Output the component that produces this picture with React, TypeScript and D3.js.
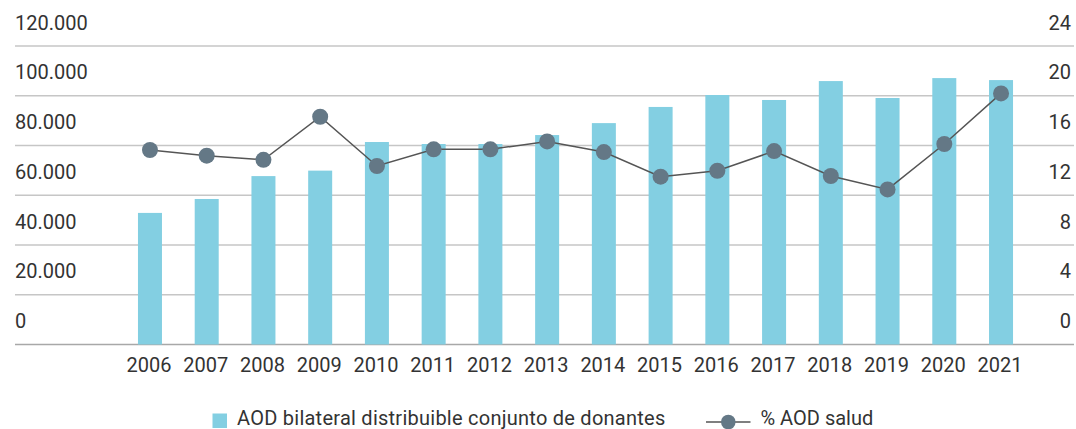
import React from "react";
import * as d3 from "d3";

const years = ["2006","2007","2008","2009","2010","2011","2012","2013","2014","2015","2016","2017","2018","2019","2020","2021"];
const aodValues = [52900, 58500, 67700, 69900, 81400, 80600, 80600, 84200, 89000, 95500, 100300, 98300, 105900, 99100, 107100, 106300];
const pctValues = [15.64, 15.18, 14.85, 18.31, 14.35, 15.69, 15.69, 16.33, 15.47, 13.49, 13.97, 15.55, 13.55, 12.47, 16.12, 20.19];
const leftTicks = [0, 20000, 40000, 60000, 80000, 100000, 120000];
const leftTickLabels = ["0", "20.000", "40.000", "60.000", "80.000", "100.000", "120.000"];
const rightTicks = [0, 4, 8, 12, 16, 20, 24];
const rightTickLabels = ["0", "4", "8", "12", "16", "20", "24"];
const legendLabels = ["AOD bilateral distribuible conjunto de donantes", "% AOD salud"];

const W = 1076, H = 429;
const FONT = "Roboto, 'DejaVu Sans', sans-serif";
const BAR = "#83cfe2";
const DOT = "#647886";
const TEXT = "#333333";

export default function App() {
  const x = d3.scaleBand<string>().domain(years).range([121.6, 1029.4]).paddingInner(0.577).paddingOuter(0.2885);
  const yL = d3.scaleLinear().domain([0, 120000]).range([344.5, 46]);
  const yR = d3.scaleLinear().domain([0, 24]).range([344.5, 46]);
  const cx = (d: string) => (x(d) as number) + x.bandwidth() / 2;
  const line = d3.line<number>().x((_, i) => cx(years[i])).y((v) => yR(v));

  return (
    <svg width={W} height={H} style={{ position: "absolute", left: 0, top: 0 }} fontFamily={FONT}>
      <rect width={W} height={H} fill="#fff" />
      {leftTicks.map((t, i) => (
        <g key={"g" + i}>
          <line x1={15} x2={1074} y1={yL(t)} y2={yL(t)} stroke={i === 0 ? "#a8a8a8" : "#c6c6c6"} strokeWidth={1.5} />
          <text x={15} y={yL(t) - 16.5} fontSize={20} fill={TEXT}>{leftTickLabels[i]}</text>
        </g>
      ))}
      {rightTicks.map((t, i) => (
        <text key={"r" + i} x={1071} y={yR(t) - 16.5} fontSize={20} fill={TEXT} textAnchor="end">{rightTickLabels[i]}</text>
      ))}
      {years.map((yr, i) => (
        <rect key={"b" + i} x={x(yr)} y={yL(aodValues[i])} width={x.bandwidth()} height={yL(0) - yL(aodValues[i])} fill={BAR} />
      ))}
      {years.map((yr, i) => (
        <text key={"x" + i} x={cx(yr) - 1} y={371.7} fontSize={20} fill={TEXT} textAnchor="middle">{yr}</text>
      ))}
      <path d={line(pctValues) || ""} fill="none" stroke="#555" strokeWidth={1.5} />
      {years.map((yr, i) => (
        <circle key={"c" + i} cx={cx(yr)} cy={yR(pctValues[i])} r={8} fill={DOT} />
      ))}
      <rect x={212.5} y={413.5} width={14.5} height={14.5} fill={BAR} />
      <text x={237} y={424.5} fontSize={20} letterSpacing={0.25} fill={TEXT}>{legendLabels[0]}</text>
      <line x1={706} x2={750.5} y1={422} y2={422} stroke="#555" strokeWidth={1.5} />
      <circle cx={728.3} cy={422} r={7.3} fill={DOT} />
      <text x={760.5} y={424.5} fontSize={20} fill={TEXT}>{legendLabels[1]}</text>
    </svg>
  );
}
